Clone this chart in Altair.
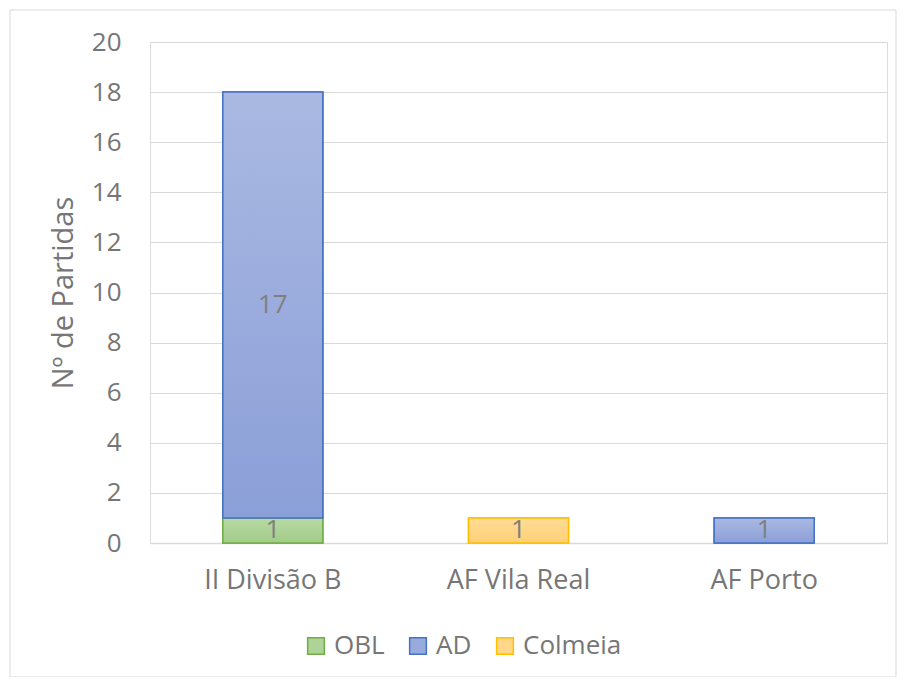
import altair as alt
import pandas as pd

categories = ["II Divisão B", "AF Vila Real", "AF Porto"]
series = ["OBL", "AD", "Colmeia"]
obl = [1, 0, 0]
ad = [17, 0, 1]
colmeia = [0, 1, 0]

stroke_colors = ["#70AD47", "#4472C4", "#FFC000"]
fill_colors = ["#ADD396", "#98ABDC", "#FFD787"]
grad_top = ["#B7D9A3", "#AAB9E2", "#FFDC96"]
grad_bot = ["#A2CB88", "#8B9FD8", "#FFD078"]

rows = []
for s_i, (s, vals) in enumerate(zip(series, [obl, ad, colmeia])):
    for c_i, (c, v) in enumerate(zip(categories, vals)):
        if v > 0:
            rows.append({"cat": c, "series": s, "value": v, "order": s_i})
df = pd.DataFrame(rows)

FONT = "Open Sans"
TXT = "#767676"

x_enc = alt.X("cat:N", sort=categories, title=None,
              scale=alt.Scale(paddingInner=0.593, paddingOuter=0.2965),
              axis=alt.Axis(labelAngle=0, labelFontSize=27, labelColor=TXT, labelFont=FONT,
                            labelPadding=24, ticks=False, domainColor="#D9D9D9", domainWidth=1.5,
                            grid=False))
y_enc = alt.Y("y0:Q", title="Nº de Partidas",
              scale=alt.Scale(domain=[0, 20], nice=False),
              axis=alt.Axis(values=list(range(0, 21, 2)), labelFontSize=26, labelColor=TXT,
                            labelFont=FONT, labelPadding=29, ticks=False, domain=False,
                            gridColor="#D9D9D9", gridWidth=1.2,
                            titleFontSize=29, titleFont=FONT, titleColor=TXT,
                            titleFontWeight="normal", titlePadding=13))

base = alt.Chart(df).transform_stack(
    stack="value", groupby=["cat"], as_=["y0", "y1"], sort=[alt.SortField("order")]
).transform_calculate(mid="(datum.y0 + datum.y1) / 2")

legend_layer = base.mark_bar(strokeWidth=1.5).encode(
    x=x_enc,
    y=y_enc,
    y2="y1:Q",
    fill=alt.Fill("series:N", sort=series,
                  scale=alt.Scale(domain=series, range=fill_colors),
                  legend=alt.Legend(title=None, orient="none", direction="horizontal",
                                    legendX=153, legendY=591, symbolType="square",
                                    symbolSize=280, symbolStrokeWidth=1.5,
                                    labelFontSize=26, labelFont=FONT, labelColor=TXT,
                                    labelOffset=5, columnPadding=20)),
    stroke=alt.Stroke("series:N", sort=series,
                      scale=alt.Scale(domain=series, range=stroke_colors)),
)

layers = [legend_layer]
for s, top, bot, sc in zip(series, grad_top, grad_bot, stroke_colors):
    grad = alt.Gradient(gradient="linear",
                        stops=[alt.GradientStop(color=top, offset=0),
                               alt.GradientStop(color=bot, offset=1)],
                        x1=0, x2=0, y1=0, y2=1)
    layers.append(
        base.transform_filter(alt.datum.series == s).mark_bar(
            fill=grad, stroke=sc, strokeWidth=1.5
        ).encode(x=alt.X("cat:N", sort=categories), y="y0:Q", y2="y1:Q")
    )

labels = base.mark_text(font=FONT, fontSize=26, color="#7F7F7F", baseline="middle").encode(
    x=alt.X("cat:N", sort=categories),
    y=alt.Y("mid:Q"),
    text="value:Q",
)
layers.append(labels)

frame = alt.Chart(pd.DataFrame({"k": [0]})).mark_rect(
    fill=None, stroke="#D9D9D9", strokeWidth=1, clip=False
).encode(x=alt.value(-140), x2=alt.value(746), y=alt.value(-32), y2=alt.value(635))
layers.append(frame)

chart = alt.layer(*layers).properties(
    width=737, height=501,
    autosize=alt.AutoSizeParams(type="none"),
    padding={"left": 142, "top": 34, "right": 10, "bottom": 134},
).configure_view(stroke=None).configure(background="white")

chart.save("out.html", embed_options={"renderer": "svg", "actions": False})
